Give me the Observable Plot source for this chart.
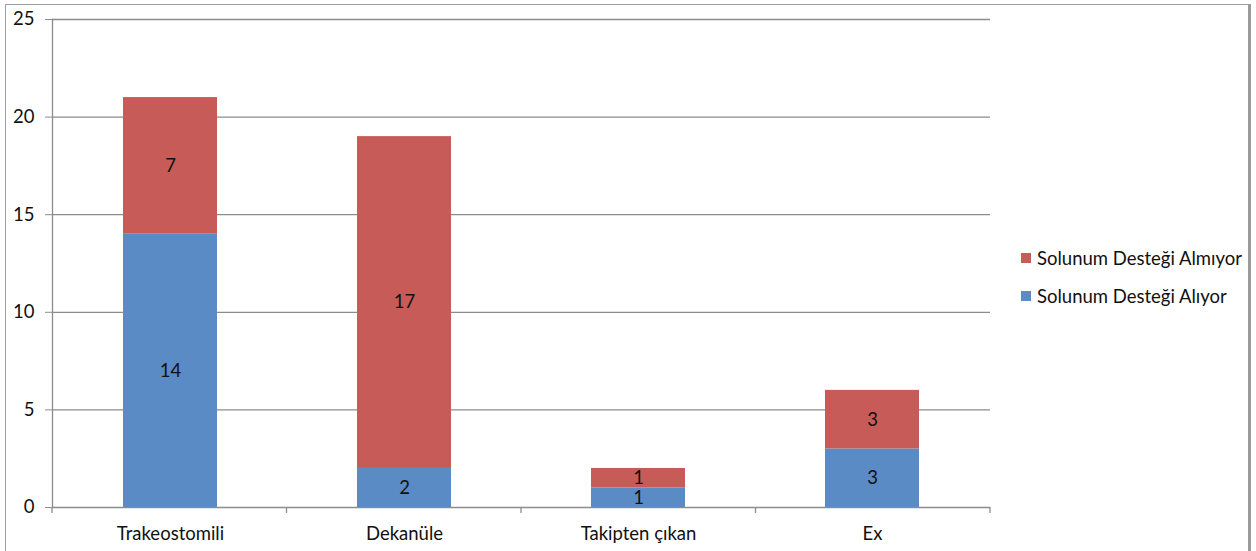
<!DOCTYPE html>
<html>
<head>
<meta charset="utf-8">
<script src="https://cdn.jsdelivr.net/npm/d3@7"></script>
<script src="https://cdn.jsdelivr.net/npm/@observablehq/plot@0.6"></script>
<style>
  html, body { margin: 0; padding: 0; background: #fff; }
  #wrap { position: relative; width: 1256px; height: 551px; overflow: hidden; font-family: Lato, "Open Sans", sans-serif; }
  #border { position: absolute; left: 5px; top: 4px; width: 1246px; height: 560px; border-left: 1.5px solid #a0a0a0; border-top: 1.5px solid #a0a0a0; border-right: 3px solid #9a9a9a; box-sizing: border-box; pointer-events: none; }
  #chart { position: absolute; left: 0; top: 0; }
  #legend { position: absolute; left: 1021px; top: 239px; font-size: 18.5px; color: #111; }
  .item { display: flex; align-items: center; height: 38px; }
  .sw { width: 10px; height: 10px; margin-right: 6px; }
</style>
</head>
<body>
<div id="wrap">
  <div id="chart"></div>
  <div id="legend"></div>
  <div id="border"></div>
</div>
<script>
const categories = ["Trakeostomili", "Dekanüle", "Takipten çıkan", "Ex"];
const seriesNames = ["Solunum Desteği Alıyor", "Solunum Desteği Almıyor"];
const aliyor = [14, 2, 1, 3];
const almiyor = [7, 17, 1, 3];
const yTicks = [0, 5, 10, 15, 20, 25];
const colors = ["#5B8BC5", "#C65B57"];

const data = [];
categories.forEach((c, i) => {
  data.push({category: c, series: seriesNames[0], value: aliyor[i]});
  data.push({category: c, series: seriesNames[1], value: almiyor[i]});
});

// category boundary ticks below the x axis: the band step divides the frame evenly
const boundaryTicks = (index, scales, values, dimensions) => {
  const g = d3.create("svg:g");
  const {width, marginLeft, marginRight, height, marginBottom} = dimensions;
  const step = (width - marginLeft - marginRight) / categories.length;
  const y0 = height - marginBottom;
  d3.range(categories.length + 1).forEach(i => {
    const xx = marginLeft + i * step;
    g.append("line").attr("x1", xx).attr("x2", xx).attr("y1", y0).attr("y2", y0 + 6)
      .attr("stroke", "#8c8c8c").attr("stroke-width", 1.3);
  });
  return g.node();
};

const chart = Plot.plot({
  width: 1256,
  height: 551,
  marginLeft: 52,
  marginRight: 266,
  marginTop: 19,
  marginBottom: 44,
  style: {fontFamily: "Lato, 'Open Sans', sans-serif", fontSize: "18.5px", color: "#111", background: "transparent", overflow: "hidden"},
  x: {domain: categories, paddingInner: 0.6, paddingOuter: 0.3, label: null, axis: null},
  y: {domain: [0, 25], label: null, axis: null},
  color: {domain: seriesNames, range: colors},
  marks: [
    Plot.ruleY(yTicks, {stroke: "#8c8c8c", strokeWidth: 1.3}),
    Plot.barY(data, Plot.stackY({x: "category", y: "value", fill: "series", order: seriesNames})),
    Plot.text(data, Plot.stackY({x: "category", y: "value", z: "series", order: seriesNames, text: "value", fontSize: 18.5, fill: "#111"})),
    Plot.frame({anchor: "left", stroke: "#8c8c8c", strokeWidth: 1.3}),
    Plot.axisY({ticks: yTicks, tickSize: 7, tickPadding: 11, stroke: "#8c8c8c", fontSize: 18.5, tickFormat: d => d, label: null}),
    Plot.axisX({tickSize: 0, tickPadding: 19, fontSize: 18.5, label: null}),
    boundaryTicks
  ]
});
document.getElementById("chart").appendChild(chart);

const legend = document.getElementById("legend");
[1, 0].forEach(i => {
  const item = document.createElement("div");
  item.className = "item";
  const sw = document.createElement("div");
  sw.className = "sw";
  sw.style.background = colors[i];
  const t = document.createElement("span");
  t.textContent = seriesNames[i];
  item.appendChild(sw);
  item.appendChild(t);
  legend.appendChild(item);
});
</script>
</body>
</html>
